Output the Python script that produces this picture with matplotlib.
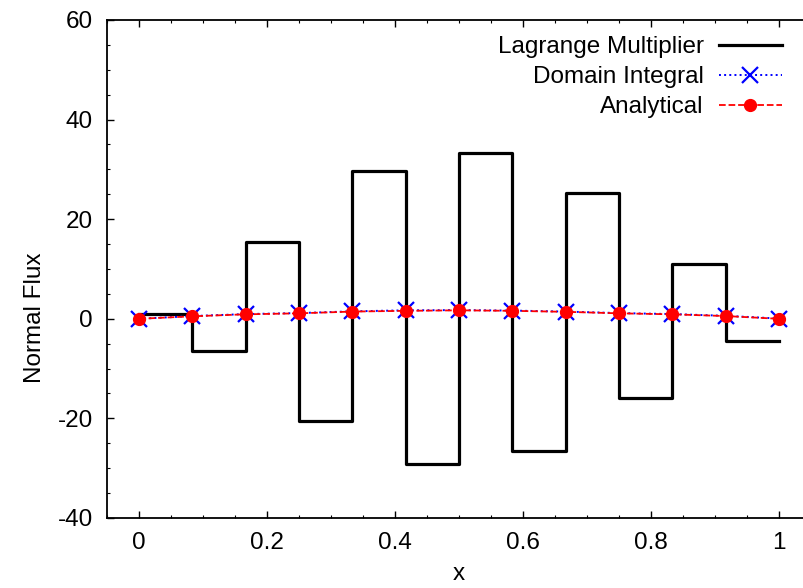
import numpy as np
import matplotlib.pyplot as plt
from matplotlib.ticker import MultipleLocator

plt.rcParams["font.family"] = ["Liberation Sans", "DejaVu Sans"]
plt.rcParams["font.size"] = 17.5
plt.rcParams["axes.unicode_minus"] = False

# data: 12 elements on [0, 1]
x_nodes = np.arange(13) / 12.0
lagrange = [1.0, -6.5, 15.5, -20.5, 29.6, -29.1, 33.3, -26.6, 25.2, -16.0, 11.0, -4.5]
domain_integral = [0.0, 0.55, 0.95, 1.15, 1.5, 1.7, 1.75, 1.65, 1.45, 1.15, 0.95, 0.6, 0.05]
analytical = [0.0, 0.5, 0.9, 1.1, 1.45, 1.6, 1.7, 1.6, 1.4, 1.1, 0.9, 0.55, 0.0]

fig = plt.figure(figsize=(8.04, 5.88), dpi=100)
ax = fig.add_axes([107 / 804, 70 / 588, 704 / 804, 498 / 588])

ax.step(x_nodes, lagrange + [lagrange[-1]], where="post", color="black",
        lw=2.3, label="Lagrange Multiplier")
ax.plot(x_nodes, domain_integral, color="blue", ls=":", lw=1.4, marker="x",
        ms=12, mew=1.6, label="Domain Integral")
ax.plot(x_nodes, analytical, color="red", ls="--", lw=1.3, marker="o",
        ms=8.5, label="Analytical")

ax.set_xlim(-0.05, 1.05)
ax.set_ylim(-40, 60)
ax.xaxis.set_minor_locator(MultipleLocator(0.05))
ax.yaxis.set_major_locator(MultipleLocator(20))
ax.yaxis.set_minor_locator(MultipleLocator(5))
ax.set_xticks([0, 0.2, 0.4, 0.6, 0.8, 1.0])
ax.set_xticklabels(["0", "0.2", "0.4", "0.6", "0.8", "1"])
ax.tick_params(which="both", direction="in", top=True, right=True)
ax.tick_params(which="major", length=5, width=1, pad=10)
ax.tick_params(which="minor", length=2.5, width=0.8)
for s in ax.spines.values():
    s.set_linewidth(1.3)

ax.set_xlabel("x", va="center")
ax.xaxis.set_label_coords(0.5 * (459 - 107) / 352, (518 - 574) / 498)
ax.set_ylabel("Normal Flux", va="center")
ax.yaxis.set_label_coords((35 - 107) / 704, (518 - 318) / 498)

ax.legend(loc="upper right", bbox_to_anchor=(782 / 804, 1 - 36 / 588),
          bbox_transform=fig.transFigure, frameon=False, markerfirst=False,
          handlelength=2.6, handletextpad=0.62, labelspacing=0.33,
          borderaxespad=0, borderpad=0)

plt.savefig("out.png", dpi=100)
